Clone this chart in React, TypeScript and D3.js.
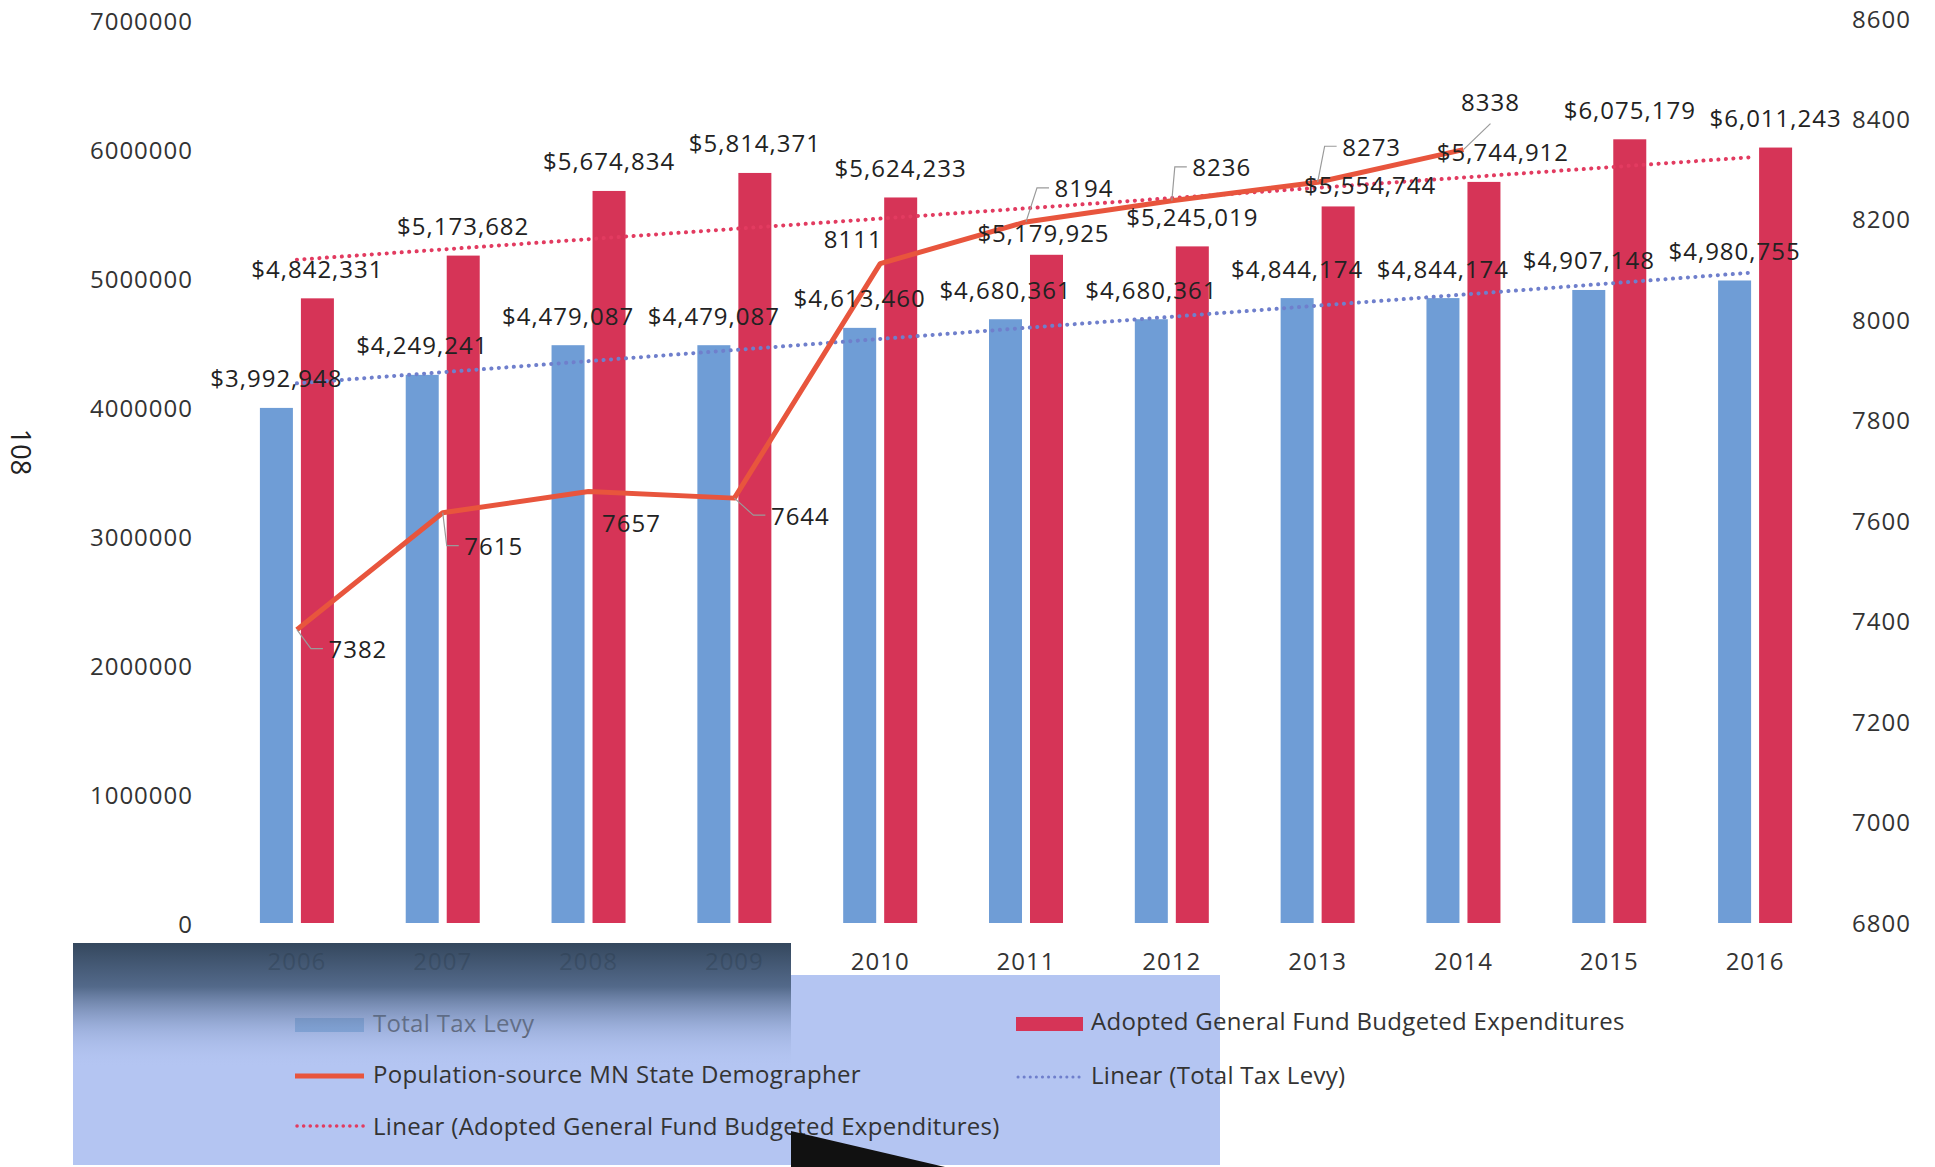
import React from 'react';
import * as d3 from 'd3';

const years = ['2006', '2007', '2008', '2009', '2010', '2011', '2012', '2013', '2014', '2015', '2016'];
const totalTaxLevy = [3992948, 4249241, 4479087, 4479087, 4613460, 4680361, 4680361, 4844174, 4844174, 4907148, 4980755];
const adoptedBudget = [4842331, 5173682, 5674834, 5814371, 5624233, 5179925, 5245019, 5554744, 5744912, 6075179, 6011243];
const populationYears = ['2006', '2007', '2008', '2009', '2010', '2011', '2012', '2013', '2014'];
const population = [7382, 7615, 7657, 7644, 8111, 8194, 8236, 8273, 8338];
const leftTicks = [0, 1000000, 2000000, 3000000, 4000000, 5000000, 6000000, 7000000];
const rightTicks = [6800, 7000, 7200, 7400, 7600, 7800, 8000, 8200, 8400, 8600];
const seriesNames = ['Total Tax Levy', 'Adopted General Fund Budgeted Expenditures'];
const lineName = 'Population-source MN State Demographer';
const trendNames = ['Linear (Total Tax Levy)', 'Linear (Adopted General Fund Budgeted Expenditures)'];

// label placement (layout only): text-centre offset from the point
const popLabelOffsets: [number, number, number][] = [
  [61, 19, 1], [51, 33, 1], [43, 31, 0], [66, 17, 1], [-27, -25, 0],
  [58, -34, 1], [50, -34, 1], [54, -36, 1], [27, -48, 2],
];
const redLabelShift: [number, number][] = [
  [0, 0], [0, 0], [0, 0], [0, 0], [0, 0], [-3, 8], [0, 0], [32, 8], [19, 0], [0, 0], [0, 0],
];

const BLUE = '#6f9dd6';
const RED = '#d63457';
const ORANGE = '#e8553d';
const RED_DOT = '#e23b60';
const BLUE_DOT = '#6f7fcc';
const TXT = '#333333';
const FONT = '"Open Sans", "DejaVu Sans", sans-serif';

function fmt(v: number) {
  return '$' + d3.format(',')(v);
}

function linreg(vals: number[]) {
  const n = vals.length;
  const xs = d3.range(n);
  const mx = d3.mean(xs) as number;
  const my = d3.mean(vals) as number;
  let sxy = 0, sxx = 0;
  xs.forEach((x, i) => { sxy += (x - mx) * (vals[i] - my); sxx += (x - mx) * (x - mx); });
  const slope = sxy / sxx;
  const b = my - slope * mx;
  return (x: number) => b + slope * x;
}

export default function App() {
  const W = 1935, H = 1167;
  const x = d3.scaleBand<string>().domain(years).range([224, 1828]).paddingInner(0).paddingOuter(0);
  const cx = (yr: string) => (x(yr) as number) + x.bandwidth() / 2;
  const yL = d3.scaleLinear().domain([0, 7000000]).range([923, 20]);
  const yR = d3.scaleLinear().domain([6800, 8600]).range([922, 18]);
  const inner = d3.scaleBand<string>().domain(['levy', 'budget']).range([-37, 37]).paddingInner(0.195);
  const bw = inner.bandwidth();

  const popLine = d3.line<number>()
    .x((_, i) => cx(populationYears[i]))
    .y((d) => yR(d));

  const regBlue = linreg(totalTaxLevy);
  const regRed = linreg(adoptedBudget);
  const last = years.length - 1;

  const textStyle = { fontFamily: FONT, fontSize: 24, letterSpacing: 1 } as React.CSSProperties;
  const legStyle = { fontFamily: FONT, fontSize: 24, letterSpacing: 0.3 } as React.CSSProperties;

  return (
    <svg width={W} height={H} style={{ position: 'absolute', left: 0, top: 0, background: '#ffffff' }}>
      <defs>
        <linearGradient id="darkScan" x1="0" y1="0" x2="0" y2="1">
          <stop offset="0" stopColor="#2f4257" stopOpacity={0.96} />
          <stop offset="0.35" stopColor="#465d7c" stopOpacity={0.88} />
          <stop offset="0.68" stopColor="#8a9fca" stopOpacity={0.55} />
          <stop offset="1" stopColor="#b4c5f2" stopOpacity={0} />
        </linearGradient>
      </defs>
      <rect x={0} y={0} width={W} height={H} fill="#ffffff" />

      {/* scanned legend background */}
      <polygon points="73,943 791,943 791,975 1220,975 1220,1165 73,1165" fill="#b4c5f2" />

      {/* page number */}
      <text transform="translate(21,452) rotate(90)" textAnchor="middle" dominantBaseline="central"
        style={{ fontFamily: FONT, fontSize: 27 }} fill="#222">108</text>

      {/* left axis */}
      {leftTicks.map((t) => (
        <text key={'l' + t} x={193} y={yL(t)} textAnchor="end" dominantBaseline="central" style={textStyle} fill={TXT}>{t}</text>
      ))}
      {/* right axis */}
      {rightTicks.map((t) => (
        <text key={'r' + t} x={1852} y={yR(t)} textAnchor="start" dominantBaseline="central" style={textStyle} fill={TXT}>{t}</text>
      ))}

      {/* bars */}
      {years.map((yr, i) => (
        <g key={'b' + yr}>
          <rect x={cx(yr) + (inner('levy') as number)} y={yL(totalTaxLevy[i])} width={bw} height={yL(0) - yL(totalTaxLevy[i])} fill={BLUE} />
          <rect x={cx(yr) + (inner('budget') as number)} y={yL(adoptedBudget[i])} width={bw} height={yL(0) - yL(adoptedBudget[i])} fill={RED} />
        </g>
      ))}

      {/* trendlines */}
      <line x1={cx(years[0])} y1={yL(regRed(0))} x2={cx(years[last])} y2={yL(regRed(last))}
        stroke={RED_DOT} strokeWidth={4} strokeDasharray="0.1 7.4" strokeLinecap="round" />
      <line x1={cx(years[0])} y1={yL(regBlue(0))} x2={cx(years[last])} y2={yL(regBlue(last))}
        stroke={BLUE_DOT} strokeWidth={4} strokeDasharray="0.1 7.4" strokeLinecap="round" />

      {/* population line */}
      <path d={popLine(population) as string} fill="none" stroke={ORANGE} strokeWidth={5} strokeLinejoin="round" />

      {/* bar labels */}
      {years.map((yr, i) => (
        <g key={'lab' + yr}>
          <text x={cx(yr) + (inner('levy') as number) + bw / 2} y={yL(totalTaxLevy[i]) - 30} textAnchor="middle" dominantBaseline="central" style={textStyle} fill="#222">{fmt(totalTaxLevy[i])}</text>
          <text x={cx(yr) + (inner('budget') as number) + bw / 2 + redLabelShift[i][0]} y={yL(adoptedBudget[i]) - 30 + redLabelShift[i][1]} textAnchor="middle" dominantBaseline="central" style={textStyle} fill="#222">{fmt(adoptedBudget[i])}</text>
        </g>
      ))}

      {/* population labels with leader lines */}
      {population.map((v, i) => {
        const px = cx(populationYears[i]);
        const py = yR(v);
        const [dx, dy, kind] = popLabelOffsets[i];
        const tx = px + dx, ty = py + dy;
        let leader = null;
        if (kind === 1) {
          const ex = tx - 30 - 5, ey = ty;
          leader = <polyline points={`${px},${py} ${ex - 12},${ey} ${ex},${ey}`} fill="none" stroke="#9a9a9a" strokeWidth={1.2} />;
        } else if (kind === 2) {
          leader = <line x1={px} y1={py} x2={tx} y2={ty + 22} stroke="#9a9a9a" strokeWidth={1.2} />;
        }
        return (
          <g key={'p' + i}>
            {leader}
            <text x={tx} y={ty} textAnchor="middle" dominantBaseline="central" style={textStyle} fill="#222">{v}</text>
          </g>
        );
      })}

      {/* x axis labels */}
      {years.map((yr) => (
        <text key={'x' + yr} x={cx(yr)} y={960} textAnchor="middle" dominantBaseline="central" style={textStyle} fill={TXT}>{yr}</text>
      ))}

      {/* legend */}
      <g>
        <rect x={295} y={1018} width={69} height={14} fill={BLUE} />
        <text x={373} y={1022} dominantBaseline="central" style={legStyle} fill={TXT}>{seriesNames[0]}</text>
        <line x1={295} y1={1076} x2={364} y2={1076} stroke={ORANGE} strokeWidth={5} />
        <text x={373} y={1073} dominantBaseline="central" style={legStyle} fill={TXT}>{lineName}</text>
        <line x1={297} y1={1126} x2={364} y2={1126} stroke={RED_DOT} strokeWidth={3.5} strokeDasharray="0.1 6.5" strokeLinecap="round" />
        <text x={373} y={1125} dominantBaseline="central" style={legStyle} fill={TXT}>{trendNames[1]}</text>
        <rect x={1016} y={1017} width={67} height={14} fill={RED} />
        <text x={1091} y={1020} dominantBaseline="central" style={legStyle} fill={TXT}>{seriesNames[1]}</text>
        <line x1={1018} y1={1077} x2={1083} y2={1077} stroke={BLUE_DOT} strokeWidth={3} strokeDasharray="0.1 6" strokeLinecap="round" />
        <text x={1091} y={1074} dominantBaseline="central" style={legStyle} fill={TXT}>{trendNames[0]}</text>
      </g>

      {/* scan artefacts */}
      <rect x={73} y={943} width={718} height={125} fill="url(#darkScan)" />
      <polygon points="791,1131 945,1167 791,1167" fill="#111" />
    </svg>
  );
}
